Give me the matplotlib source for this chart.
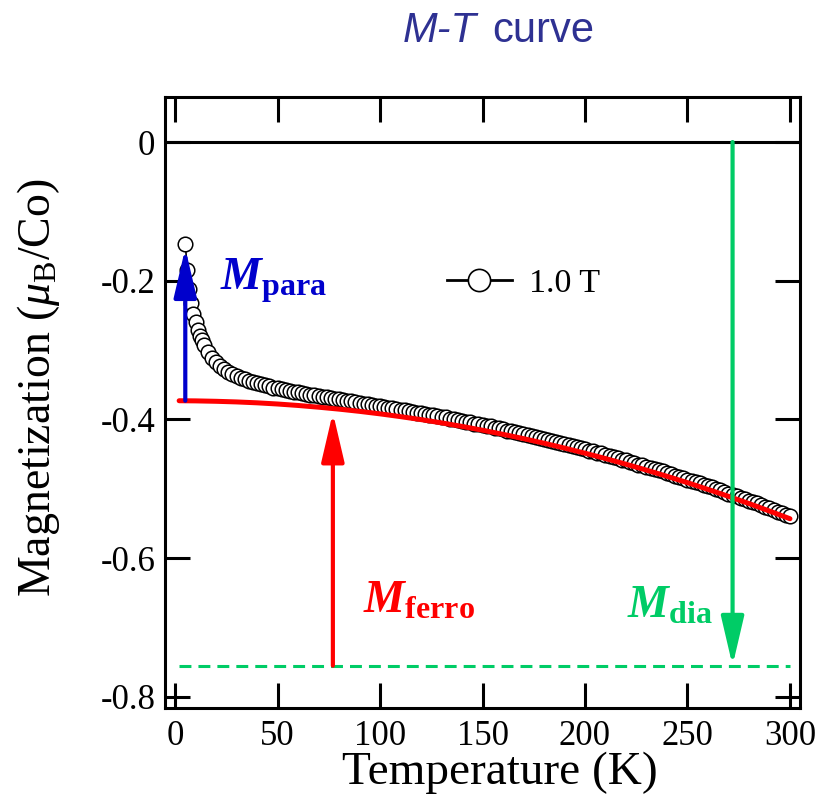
import numpy as np
import matplotlib
matplotlib.use("Agg")
import matplotlib.pyplot as plt
from matplotlib.lines import Line2D

plt.rcParams.update({
    "font.family": "Liberation Serif",
    "mathtext.fontset": "custom",
    "mathtext.rm": "Liberation Serif",
    "mathtext.it": "Liberation Serif:italic",
    "mathtext.bf": "Liberation Serif:bold",
    "mathtext.bfit": "Liberation Serif:italic:bold",
    "axes.unicode_minus": False,
})

# ---- measured M(T) at 1.0 T ----
temps = [5, 6, 7, 8, 9, 10, 11, 12, 13, 14, 16, 18, 20,
         22, 24, 26, 28, 30, 32, 34, 36, 38, 40,
         42, 44, 46, 48, 50, 52, 54, 56, 58, 60,
         62, 64, 66, 68, 70, 72, 74, 76, 78, 80,
         82, 84, 86, 88, 90, 92, 94, 96, 98, 100,
         102, 104, 106, 108, 110, 112, 114, 116, 118, 120,
         122, 124, 126, 128, 130, 132, 134, 136, 138, 140,
         142, 144, 146, 148, 150, 152, 154, 156, 158, 160,
         162, 164, 166, 168, 170, 172, 174, 176, 178, 180,
         182, 184, 186, 188, 190, 192, 194, 196, 198, 200,
         202, 204, 206, 208, 210, 212, 214, 216, 218, 220,
         222, 224, 226, 228, 230, 232, 234, 236, 238, 240,
         242, 244, 246, 248, 250, 252, 254, 256, 258, 260,
         262, 264, 266, 268, 270, 272, 274, 276, 278, 280,
         282, 284, 286, 288, 290, 292, 294, 296, 298, 300]
magnetization = [-0.147, -0.185, -0.212, -0.232, -0.248, -0.260, -0.271, -0.279, -0.286, -0.293, -0.303, -0.311, -0.317,
                 -0.323, -0.327, -0.331, -0.334, -0.337, -0.340, -0.342, -0.344, -0.346, -0.348,
                 -0.349, -0.351, -0.352, -0.354, -0.355, -0.356, -0.358, -0.359, -0.360, -0.361,
                 -0.362, -0.363, -0.364, -0.365, -0.366, -0.367, -0.368, -0.369, -0.370, -0.371,
                 -0.372, -0.373, -0.374, -0.375, -0.376, -0.377, -0.378, -0.379, -0.380, -0.381,
                 -0.382, -0.383, -0.384, -0.385, -0.386, -0.387, -0.388, -0.389, -0.390, -0.391,
                 -0.392, -0.393, -0.394, -0.395, -0.396, -0.397, -0.399, -0.400, -0.401, -0.402,
                 -0.403, -0.404, -0.406, -0.407, -0.408, -0.409, -0.410, -0.412, -0.413, -0.414,
                 -0.416, -0.417, -0.418, -0.420, -0.421, -0.422, -0.424, -0.425, -0.427, -0.428,
                 -0.429, -0.431, -0.432, -0.434, -0.435, -0.437, -0.438, -0.440, -0.441, -0.443,
                 -0.445, -0.446, -0.448, -0.449, -0.451, -0.453, -0.454, -0.456, -0.458, -0.459,
                 -0.461, -0.463, -0.465, -0.466, -0.468, -0.470, -0.472, -0.473, -0.475, -0.477,
                 -0.479, -0.481, -0.483, -0.485, -0.487, -0.489, -0.490, -0.492, -0.494, -0.496,
                 -0.498, -0.500, -0.502, -0.505, -0.507, -0.509, -0.511, -0.513, -0.515, -0.517,
                 -0.519, -0.521, -0.524, -0.526, -0.528, -0.530, -0.533, -0.535, -0.537, -0.539]

# ---- ferromagnetic component ----
ferro_temps = [2, 10, 20, 30, 40, 50, 60, 70, 80, 90, 100, 110, 120, 130, 140, 150,
               160, 170, 180, 190, 200, 210, 220, 230, 240, 250, 260, 270, 280, 290, 300]
ferro_m = [-0.3730, -0.3732, -0.3738, -0.3747, -0.3760, -0.3777, -0.3798, -0.3823, -0.3851,
           -0.3883, -0.3919, -0.3959, -0.4002, -0.4049, -0.4100, -0.4155, -0.4214, -0.4276,
           -0.4342, -0.4412, -0.4486, -0.4563, -0.4645, -0.4730, -0.4819, -0.4911, -0.5008,
           -0.5108, -0.5212, -0.5320, -0.5431]

# ---- diamagnetic level and arrow positions ----
dia_level = -0.755
dia_span = [2, 300]
para_arrow_t, para_from, para_to = 5, -0.373, -0.147
ferro_arrow_t, ferro_to = 77, -0.384
dia_arrow_t = 272

xticks = [0, 50, 100, 150, 200, 250, 300]
xtick_labels = ["0", "50", "100", "150", "200", "250", "300"]
yticks = [0, -0.2, -0.4, -0.6, -0.8]
ytick_labels = ["0", "-0.2", "-0.4", "-0.6", "-0.8"]

BLUE = "#0000CC"
RED = "#FF0000"
GREEN = "#00CC66"
TITLE = "#2E3192"

fig = plt.figure(figsize=(8.25, 8.09), dpi=100)
ax = fig.add_axes([0.2, 0.1249, 0.7697, 0.7552])

ax.axhline(0, color="black", lw=2.2, zorder=2)

ax.plot(temps, magnetization, "-", color="black", lw=1.2, marker="o", ms=10.5,
        mfc="white", mec="black", mew=1.1, zorder=3)
ax.plot(ferro_temps, ferro_m, color=RED, lw=3.6, zorder=4, solid_capstyle="round")
ax.plot(dia_span, [dia_level, dia_level], color=GREEN, lw=2.2, dashes=(3.9, 2.3), zorder=2)

def arrow(x, y0, y1, color, shrink=0):
    ax.annotate("", xy=(x, y1), xytext=(x, y0),
                arrowprops=dict(arrowstyle="-|>,head_length=3.0,head_width=0.7",
                                mutation_scale=10, lw=3, color=color,
                                shrinkA=0, shrinkB=shrink), zorder=5)

arrow(para_arrow_t, para_from, para_to, BLUE, shrink=3)
arrow(ferro_arrow_t, dia_level, ferro_to, RED, shrink=3)
arrow(dia_arrow_t, 0, dia_level, GREEN)

ax.text(22, -0.2133, r"$\mathbfit{M}_{\mathbf{para}}$", color=BLUE, fontsize=33, va="baseline")
ax.text(91.5, -0.679, r"$\mathbfit{M}_{\mathbf{ferro}}$", color=RED, fontsize=33, va="baseline")
ax.text(220.5, -0.686, r"$\mathbfit{M}_{\mathbf{dia}}$", color=GREEN, fontsize=33, va="baseline")

handle = Line2D([], [], color="black", lw=2, marker="o", ms=16, mfc="white", mec="black", mew=1.2)
ax.legend([handle], ["1.0 T"], loc="center left", bbox_to_anchor=(0.444, 0.694),
          frameon=False, fontsize=24.5, handlelength=1.9, handletextpad=0.5,
          borderpad=0, borderaxespad=0)

ax.set_xlim(-4.9, 304.9)
ax.set_ylim(-0.8159, 0.0649)
ax.set_xticks(xticks)
ax.set_xticklabels(xtick_labels)
ax.set_yticks(yticks)
ax.set_yticklabels(ytick_labels)
ax.tick_params(direction="in", length=18, width=2.2, labelsize=25,
               top=True, right=True)
ax.tick_params(axis="x", pad=9)
ax.tick_params(axis="y", pad=7)
for s in ax.spines.values():
    s.set_linewidth(2.2)

ax.set_xlabel("Temperature (K)", fontsize=34)
ax.set_ylabel(r"Magnetization ($\mu_{\rm B}$/Co)", fontsize=33)
ax.xaxis.set_label_coords(0.528, -0.071)
ax.yaxis.set_label_coords(-0.162, 0.525)

fig.text(403 / 825, 1 - 42 / 809, "M-T", family="Liberation Sans", style="italic",
         fontsize=30, color=TITLE, ha="left", va="baseline")
fig.text(492 / 825, 1 - 42 / 809, "curve", family="Liberation Sans",
         fontsize=30, color=TITLE, ha="left", va="baseline")

fig.savefig("out.png", dpi=100)
